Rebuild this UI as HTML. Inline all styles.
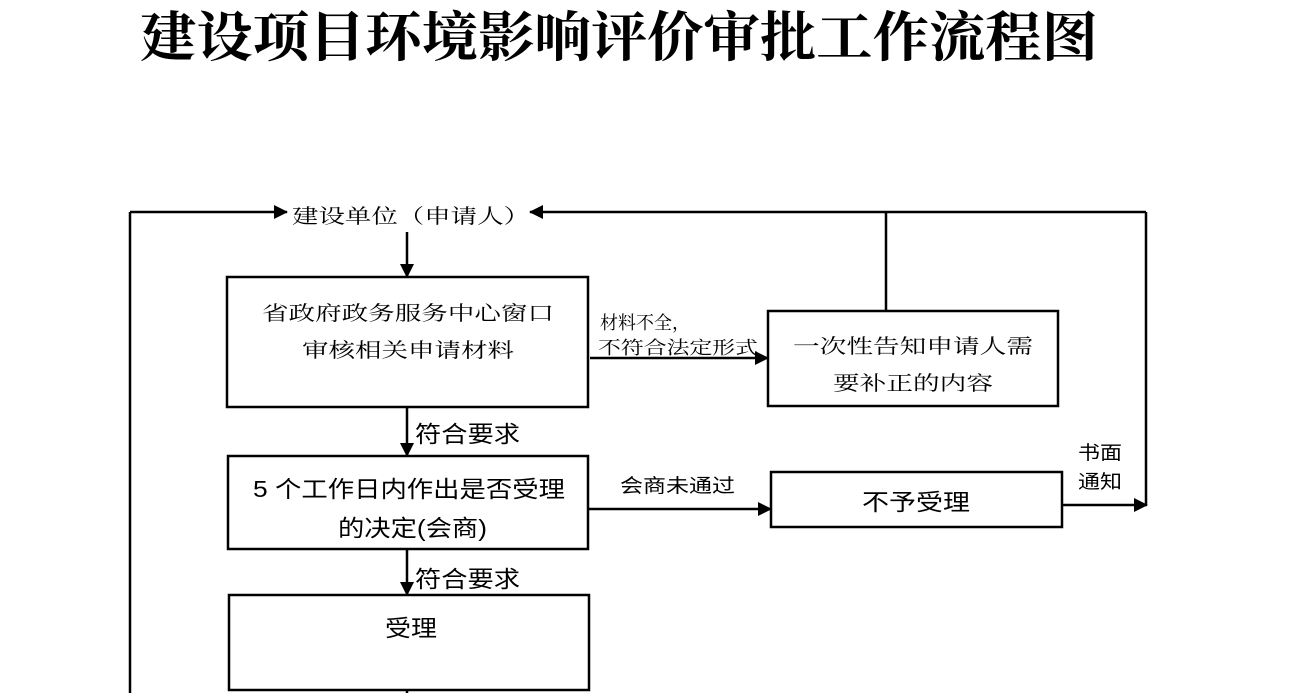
<!DOCTYPE html>
<html><head><meta charset="utf-8"><style>
html,body{margin:0;padding:0;background:#fff;}
svg{display:block;}
text{font-family:"Liberation Serif","Noto Serif CJK SC",serif;fill:#000;}
.t text{font-family:"Liberation Sans","Noto Sans CJK SC",sans-serif;}
</style></head><body>
<svg width="1306" height="693" viewBox="0 0 1306 693" xmlns="http://www.w3.org/2000/svg">
<defs><marker id="b" markerWidth="14" markerHeight="14" refX="13" refY="7" orient="auto" markerUnits="userSpaceOnUse"><path d="M0,0 L14,7 L0,14 z" fill="#000"/></marker></defs>
<text x="140" y="56" font-size="54" font-weight="700" textLength="958" lengthAdjust="spacingAndGlyphs" style="font-family:'Noto Serif CJK SC',serif">建设项目环境影响评价审批工作流程图</text>
<g stroke="#000" stroke-width="2.5" fill="none">
<line x1="130" y1="693" x2="130" y2="212"/>
<line x1="130" y1="212" x2="287" y2="212" marker-end="url(#b)"/>
<line x1="1146" y1="212" x2="530" y2="212" marker-end="url(#b)"/>
<line x1="1146" y1="212" x2="1146" y2="505"/>
<line x1="1063" y1="505" x2="1147" y2="505" marker-end="url(#b)"/>
<line x1="886" y1="212" x2="886" y2="311"/>
<line x1="407" y1="232" x2="407" y2="277" marker-end="url(#b)"/>
<rect x="227" y="277" width="361" height="130"/>
<line x1="590" y1="358" x2="768" y2="358" marker-end="url(#b)"/>
<rect x="768" y="311" width="290" height="95"/>
<line x1="407" y1="407" x2="407" y2="456" marker-end="url(#b)"/>
<rect x="228" y="456" width="360" height="93"/>
<line x1="588" y1="509" x2="771" y2="509" marker-end="url(#b)"/>
<rect x="771" y="472" width="291" height="55"/>
<line x1="407" y1="549" x2="407" y2="595" marker-end="url(#b)"/>
<rect x="229" y="595" width="360" height="95"/>
<line x1="407" y1="690" x2="407" y2="693"/>
</g>
<g font-size="20">
<text x="292" y="223" textLength="238" lengthAdjust="spacingAndGlyphs">建设单位（申请人）</text>
<text x="408" y="320" text-anchor="middle" textLength="292" lengthAdjust="spacingAndGlyphs">省政府政务服务中心窗口</text>
<text x="408" y="357" text-anchor="middle" textLength="212" lengthAdjust="spacingAndGlyphs">审核相关申请材料</text>
<text x="913" y="353" text-anchor="middle" textLength="240" lengthAdjust="spacingAndGlyphs">一次性告知申请人需</text>
<text x="913" y="390" text-anchor="middle" textLength="160" lengthAdjust="spacingAndGlyphs">要补正的内容</text>
</g>
<g font-size="23" class="t">
<text x="862" y="510" textLength="108" lengthAdjust="spacingAndGlyphs">不予受理</text>
<text x="253" y="497" textLength="312" lengthAdjust="spacingAndGlyphs">5 个工作日内作出是否受理</text>
<text x="338" y="536" textLength="149" lengthAdjust="spacingAndGlyphs">的决定(会商)</text>
<text x="385" y="636" textLength="52" lengthAdjust="spacingAndGlyphs">受理</text>
<text x="415" y="442" textLength="105" lengthAdjust="spacingAndGlyphs">符合要求</text>
<text x="415" y="587" textLength="105" lengthAdjust="spacingAndGlyphs">符合要求</text>
</g>
<g font-size="18">
<text x="600" y="329" textLength="90" lengthAdjust="spacingAndGlyphs">材料不全，</text>
<text x="598" y="354" textLength="160" lengthAdjust="spacingAndGlyphs">不符合法定形式</text>
</g>
<g font-size="19" class="t">
<text x="620" y="492" textLength="115" lengthAdjust="spacingAndGlyphs">会商未通过</text>
<text x="1078" y="459" textLength="44" lengthAdjust="spacingAndGlyphs">书面</text>
<text x="1078" y="488" textLength="44" lengthAdjust="spacingAndGlyphs">通知</text>
</g>
</svg>
</body></html>
